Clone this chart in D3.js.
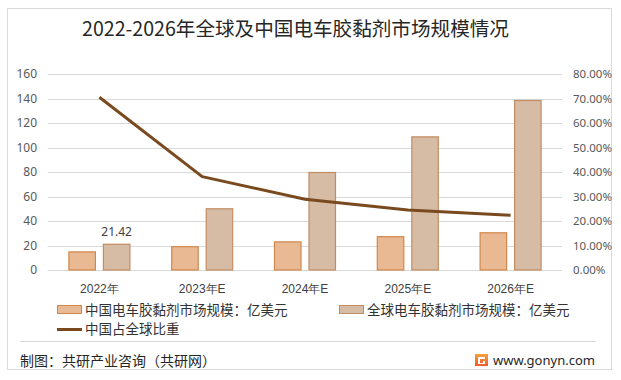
<!DOCTYPE html>
<html><head><meta charset="utf-8">
<script src="https://cdn.jsdelivr.net/npm/d3@7/dist/d3.min.js"></script>
<style>
html,body{margin:0;padding:0;background:#fff;}
svg{display:block;font-family:"Noto Sans CJK SC","Noto Sans",sans-serif;}
</style></head>
<body>
<script>
const categories = ["2022年","2023年E","2024年E","2025年E","2026年E"];
const chinaMarket = [15.2, 19.4, 23.4, 27.6, 30.8];
const globalMarket = [21.42, 50.4, 80.0, 109.1, 138.8];
const chinaShare = [70.5, 38.1, 28.9, 24.5, 22.3];
const leftTicks = [0,20,40,60,80,100,120,140,160];
const rightTicks = [0,10,20,30,40,50,60,70,80];
const seriesNames = ["中国电车胶黏剂市场规模：亿美元","全球电车胶黏剂市场规模：亿美元","中国占全球比重"];
const title = "2022-2026年全球及中国电车胶黏剂市场规模情况";

const W=621,H=380;
const svg=d3.select("body").append("svg").attr("width",W).attr("height",H);
svg.append("rect").attr("x",0).attr("y",0).attr("width",W).attr("height",H).attr("fill","#fff");
svg.append("rect").attr("x",7.5).attr("y",8.5).attr("width",604).attr("height",361)
  .attr("fill","none").attr("stroke","#d9d9d9").attr("stroke-width",1);

svg.append("text").attr("x",295.5).attr("y",35.5).attr("text-anchor","middle")
  .attr("font-size",19.6).attr("fill","#262626").text(title);

const plot={l:48,r:562,t:74,b:270};
const x0=d3.scaleBand().domain(categories).range([plot.l,plot.r]);
const x1=d3.scaleBand().domain([0,1]).range([-31,31]).paddingInner(0.203);
const yL=d3.scaleLinear().domain([0,160]).range([plot.b,plot.t]);
const yR=d3.scaleLinear().domain([0,80]).range([plot.b,plot.t]);

// grid
svg.append("g").selectAll("line").data(leftTicks).join("line")
  .attr("x1",plot.l).attr("x2",plot.r)
  .attr("y1",d=>Math.round(yL(d))+0.5).attr("y2",d=>Math.round(yL(d))+0.5)
  .attr("stroke","#d9d9d9").attr("stroke-width",1);

// left axis
const axL=svg.append("g").attr("transform",`translate(${plot.l},0)`)
  .call(d3.axisLeft(yL).tickValues(leftTicks).tickSize(0).tickPadding(11));
axL.select(".domain").remove();
axL.selectAll("text").attr("font-size",12).attr("fill","#595959").attr("font-family","'Noto Sans',sans-serif");

// right axis
const axR=svg.append("g").attr("transform",`translate(${plot.r},0)`)
  .call(d3.axisRight(yR).tickValues(rightTicks).tickSize(0).tickPadding(11).tickFormat(d=>d.toFixed(2)+"%"));
axR.select(".domain").remove();
axR.selectAll("text").attr("font-size",11.5).attr("fill","#595959").attr("font-family","'Noto Sans',sans-serif");

// x axis labels
const axB=svg.append("g").attr("transform",`translate(0,${plot.b})`)
  .call(d3.axisBottom(x0).tickSize(0).tickPadding(14));
axB.select(".domain").remove();
axB.selectAll("text").attr("font-size",12).attr("fill","#404040");

const colors={china:{fill:"#e8b993",stroke:"#d2884c"},global:{fill:"#d6bba5",stroke:"#c48c62"}};
const bars=[chinaMarket,globalMarket];
const cols=[colors.china,colors.global];
bars.forEach((arr,si)=>{
  svg.append("g").selectAll("rect").data(arr).join("rect")
    .attr("x",(d,i)=>x0(categories[i])+x0.bandwidth()/2+x1(si)+0.5)
    .attr("y",d=>yL(d)+0.5)
    .attr("width",x1.bandwidth()-1)
    .attr("height",d=>yL(0)-yL(d)-0.5)
    .attr("fill",cols[si].fill).attr("stroke",cols[si].stroke).attr("stroke-width",1.2);
});

// data label
svg.append("text")
  .attr("x",x0(categories[0])+x0.bandwidth()/2+x1(1)+x1.bandwidth()/2)
  .attr("y",yL(globalMarket[0])-8)
  .attr("text-anchor","middle").attr("font-size",12).attr("fill","#404040")
  .attr("font-family","'Noto Sans',sans-serif").text(globalMarket[0].toFixed(2));

// line
const line=d3.line().x((d,i)=>x0(categories[i])+x0.bandwidth()/2).y(d=>yR(d));
svg.append("path").datum(chinaShare).attr("d",line)
  .attr("fill","none").attr("stroke","#7a4a1f").attr("stroke-width",3).attr("stroke-linejoin","round");

// legend
const lg=svg.append("g").attr("font-size",13.5).attr("fill","#333");
lg.append("rect").attr("x",57.5).attr("y",305.5).attr("width",24).attr("height",8)
  .attr("fill",colors.china.fill).attr("stroke",colors.china.stroke);
lg.append("text").attr("x",85).attr("y",314.5).text(seriesNames[0]);
lg.append("rect").attr("x",339.5).attr("y",305.5).attr("width",24).attr("height",8)
  .attr("fill",colors.global.fill).attr("stroke",colors.global.stroke);
lg.append("text").attr("x",367).attr("y",314.5).text(seriesNames[1]);
lg.append("line").attr("x1",57).attr("x2",82).attr("y1",329.5).attr("y2",329.5)
  .attr("stroke","#7a4a1f").attr("stroke-width",3);
lg.append("text").attr("x",85).attr("y",334).text(seriesNames[2]);

// footer
svg.append("line").attr("x1",20).attr("x2",596).attr("y1",341.5).attr("y2",341.5).attr("stroke","#d9d9d9");
svg.append("text").attr("x",20).attr("y",366).attr("font-size",14).attr("fill","#262626").text("制图：共研产业咨询（共研网）");
const logo=svg.append("g").attr("transform","translate(475,354)");
const grad=svg.append("defs").append("linearGradient").attr("id","lg1").attr("x1",0).attr("y1",0).attr("x2",0).attr("y2",1);
grad.append("stop").attr("offset","0%").attr("stop-color","#f7a13a");
grad.append("stop").attr("offset","100%").attr("stop-color","#ee5a2a");
logo.append("rect").attr("width",13).attr("height",12).attr("fill","url(#lg1)");
logo.append("path").attr("d","M3,3 H10 V5 H5 V9 H8 V7 H10 V10 H3 Z").attr("fill","#fff");
svg.append("text").attr("x",493).attr("y",365).attr("font-size",13).attr("fill","#262626")
  .attr("font-family","'Noto Sans',sans-serif").text("www.gonyn.com");
</script>
</body></html>
